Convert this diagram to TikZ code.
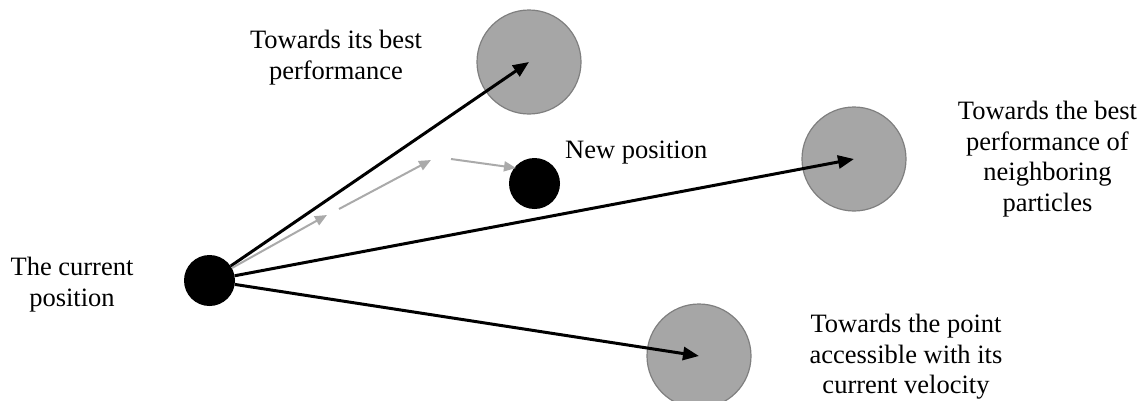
\documentclass[tikz,border=0pt]{standalone}
\usepackage{fontspec}
\setmainfont{Liberation Serif}
\usetikzlibrary{arrows.meta}
\definecolor{ballfill}{HTML}{A6A6A6}
\definecolor{balledge}{HTML}{7F7F7F}
\definecolor{steparrow}{HTML}{AAAAAA}
\begin{document}
\begin{tikzpicture}[x=1pt,y=-1pt,
  goal/.style={circle,fill=ballfill,draw=balledge,line width=1.2pt,minimum size=104pt,inner sep=0pt},
  particle/.style={circle,fill=black,minimum size=51pt,inner sep=0pt},
  label/.style={align=center,inner sep=0pt,font=\fontsize{26.5}{30.5}\selectfont},
  pull/.style={line width=3pt,-{Triangle[length=16pt,width=13pt]}},
  move/.style={draw=steparrow,line width=2pt,-{Triangle[length=12pt,width=10pt]}}]
\useasboundingbox (0,0) rectangle (1144,400);

% attractors
\node[goal] (pbest) at (529,62) {};
\node[goal] (gbest) at (854,159) {};
\node[goal] (inert) at (699,356) {};

% particles
\node[particle] (cur) at (209.5,280.5) {};
\node[particle] (new) at (534.5,183.5) {};

% components of the velocity update
\draw[pull] (cur) -- (pbest.center);
\draw[pull] (cur) -- (gbest.center);
\draw[pull] (cur) -- (inert.center);

% resulting move, step by step
\coordinate (s1) at (327,215);
\coordinate (s2a) at (339,209);
\coordinate (s2b) at (431,160);
\coordinate (s3a) at (451,159);
\coordinate (s3b) at (516,168);
\draw[move] (cur) -- (s1);
\draw[move] (s2a) -- (s2b);
\draw[move] (s3a) -- (s3b);

% labels
\node[label] (lcur) at (72,284.7) {The current\\position};
\node[label] (lpbest) at (336,57.7) {Towards its best\\performance};
\node[label] (lgbest) at (1047.5,159.2) {Towards the best\\performance of\\neighboring\\particles};
\node[label] (linert) at (906,356.7) {Towards the point\\accessible with its\\current velocity};
\node[label,anchor=base west] (lnew) at (565,158) {New position};
\end{tikzpicture}
\end{document}
